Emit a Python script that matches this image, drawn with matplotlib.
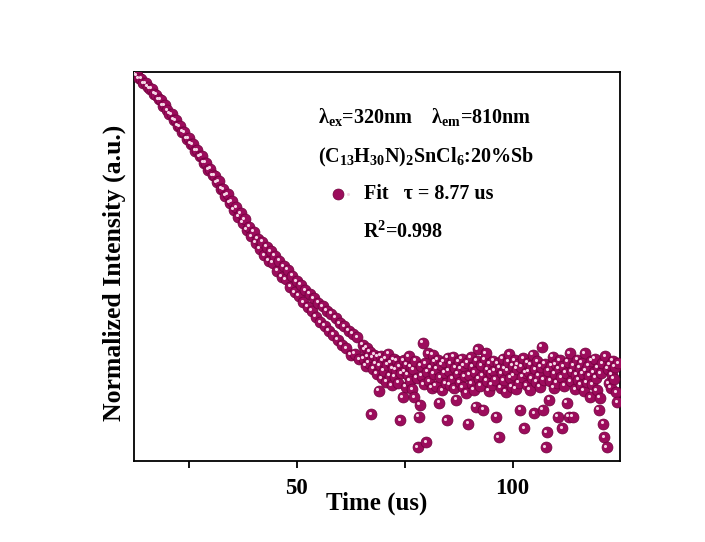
import numpy as np
import matplotlib.pyplot as plt
from matplotlib.transforms import offset_copy
from matplotlib.legend_handler import HandlerTuple

plt.rcParams['font.family'] = ['Liberation Serif', 'DejaVu Serif']
plt.rcParams['font.weight'] = 'bold'
plt.rcParams['mathtext.default'] = 'regular'

# decay part: t = 12.5 ... 64.5 us, step 0.5
t_decay_start, t_decay_step = 12.5, 0.5
y_decay = [
    100.0, 99.7, 98.9, 98.8, 97.6, 97.6, 96.7, 96.2, 96.1, 94.8,
    94.7, 93.5, 93.3, 91.8, 91.9, 90.6, 89.7, 89.6, 88.1, 88.0,
    86.6, 86.5, 85.1, 84.9, 83.3, 83.4, 81.9, 81.8, 80.2, 80.3,
    78.7, 78.8, 77.0, 77.1, 75.2, 75.5, 73.8, 73.7, 72.0, 72.3,
    70.4, 70.2, 68.5, 68.9, 66.8, 67.1, 65.0, 65.6, 63.2, 64.0,
    61.6, 62.5, 59.8, 60.6, 58.1, 59.2, 56.4, 57.5, 54.8, 56.6,
    53.2, 55.4, 51.7, 54.2, 51.2, 53.0, 49.1, 51.7, 47.7, 50.3,
    47.0, 49.4, 45.1, 47.9, 43.6, 46.5, 42.7, 45.6, 41.0, 44.1,
    39.8, 43.3, 38.8, 42.1, 37.3, 40.9, 35.9, 40.0, 34.9, 38.9,
    33.6, 38.1, 32.6, 37.0, 31.4, 35.6, 30.0, 34.8, 29.2, 33.7,
    27.4, 32.9, 27.7, 32.0, 26.3,
]

# noisy tail: t = 65.25 ... us, step 0.25
t_tail_start, t_tail_step = 65.25, 0.25
y_tail = [
    30.1, 26.4, 28.9, 24.7, 29.3, 27.0, 25.5, 28.2, 12.1, 26.8,
    23.9, 27.5, 25.1, 22.6, 26.9, 18.1, 24.8, 27.2, 21.4, 25.9,
    23.3, 26.6, 20.5, 24.9, 27.8, 22.1, 25.4, 19.6, 24.0, 26.3,
    21.8, 23.6, 25.9, 20.3, 24.5, 10.6, 22.7, 16.5, 26.1, 23.2,
    19.2, 25.0, 22.4, 27.1, 20.8, 24.3, 18.6, 23.7, 16.5, 26.0,
    21.5, 3.6, 11.4, 14.5, 24.6, 22.0, 30.5, 19.9, 25.3, 4.9,
    23.1, 27.9, 20.6, 24.2, 18.9, 27.4, 22.5, 25.7, 19.4, 23.8,
    26.2, 15.0, 21.7, 24.9, 18.3, 25.6, 22.8, 20.1, 10.6, 26.7,
    23.4, 19.7, 25.2, 21.3, 27.0, 18.8, 24.1, 15.8, 22.6, 25.8,
    20.4, 23.9, 26.5, 19.1, 24.7, 21.9, 17.6, 25.4, 9.6, 22.3,
    26.8, 20.0, 24.4, 18.5, 23.0, 14.0, 25.9, 28.9, 21.2, 19.5,
    24.8, 22.1, 13.2, 26.3, 27.9, 20.7, 23.6, 18.2, 25.1, 22.9,
    19.8, 26.0, 23.3, 21.0, 11.4, 25.3, 6.2, 24.2, 19.0, 22.7,
    26.4, 20.9, 24.0, 17.9, 23.5, 25.7, 27.6, 21.6, 19.3, 24.6,
    22.2, 26.1, 18.7, 23.8, 25.0, 20.3, 13.2, 24.4, 21.8, 26.6,
    8.5, 22.8, 19.6, 25.5, 23.1, 18.4, 24.9, 21.4, 27.4, 12.4,
    23.7, 20.5, 25.8, 22.0, 19.2, 24.3, 29.5, 13.2, 21.1, 25.2,
    3.6, 7.5, 23.4, 15.8, 20.8, 24.6, 26.9, 18.9, 22.5, 25.0,
    20.2, 11.4, 23.9, 26.1, 21.7, 8.5, 24.5, 19.4, 22.9, 15.0,
    25.6, 11.4, 27.9, 20.6, 23.2, 11.4, 24.8, 18.6, 22.3, 26.2,
    21.0, 24.1, 19.7, 25.4, 22.6, 18.1, 27.9, 23.5, 20.4, 24.7,
    22.1, 16.5, 25.9, 19.9, 23.0, 26.4, 21.5, 18.3, 24.2, 13.2,
    16.3, 22.7, 25.3, 9.6, 6.2, 27.1, 3.6, 23.8, 20.1, 24.9,
    19.0, 22.4, 26.0, 21.2, 24.4, 17.8, 15.2, 25.3,
]

t = np.concatenate([
    t_decay_start + t_decay_step * np.arange(len(y_decay)),
    t_tail_start + t_tail_step * np.arange(len(y_tail)),
])
y = np.array(y_decay + y_tail)

ball_color = '#9c0c5c'
edge_color = '#70003c'
shine_color = '#f4d6e6'

fig = plt.figure(figsize=(7.05, 5.42), dpi=100)
ax = fig.add_axes([0.190, 0.149, 0.689, 0.718])

balls = ax.scatter(t, y, s=62, c=ball_color, edgecolors=edge_color, linewidths=0.5, zorder=3)
shine_tr = offset_copy(ax.transData, fig=fig, x=-1.2, y=1.2, units='points')
shine = ax.scatter(t, y, s=5, c=shine_color, linewidths=0, transform=shine_tr, zorder=4)

ax.set_xlim(12.3, 124.8)
ax.set_ylim(0, 100.5)
ax.set_xticks([50, 100])
ax.set_xticks([25, 75], minor=True)
ax.set_yticks([])
ax.tick_params(axis='x', which='both', direction='out', length=5, width=1.3,
               labelsize=16.5, pad=7)
for lab in ax.get_xticklabels():
    lab.set_fontweight('bold')
for sp in ax.spines.values():
    sp.set_linewidth(1.3)

ax.set_xlabel('Time (us)', fontsize=18, fontweight='bold', labelpad=-5)
ax.set_ylabel('Normalized Intensity (a.u.)', fontsize=18.5, fontweight='bold')
ax.yaxis.set_label_coords(-0.016, 0.483)

ax.text(0.379, 0.884, r'$\lambda_{ex}$=320nm    $\lambda_{em}$=810nm',
        transform=ax.transAxes, fontsize=14.5, fontweight='bold', va='center')
ax.text(0.379, 0.781, r'(C$_{13}$H$_{30}$N)$_2$SnCl$_6$:20%Sb',
        transform=ax.transAxes, fontsize=14.5, fontweight='bold', va='center')
ax.text(0.471, 0.589, r'R$^2$=0.998',
        transform=ax.transAxes, fontsize=14.5, fontweight='bold', va='center')

ax.legend(handles=[(balls, shine)], labels=['Fit   \u03c4 = 8.77 us'],
          handler_map={tuple: HandlerTuple(ndivide=None)},
          loc='center left', bbox_to_anchor=(0.41, 0.686), frameon=False,
          handlelength=1.0, handletextpad=0.55, borderpad=0, borderaxespad=0,
          prop={'size': 14.5, 'weight': 'bold'})

fig.savefig('out.png', dpi=100, facecolor='white')
